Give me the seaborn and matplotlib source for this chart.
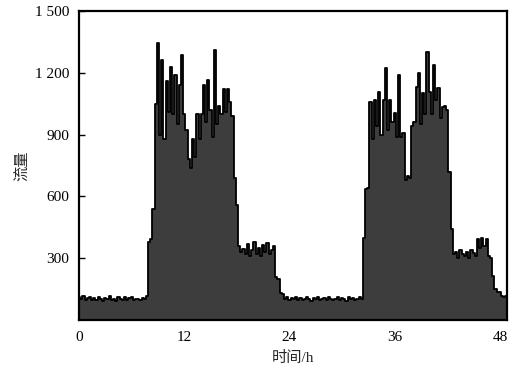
import numpy as np
import pandas as pd
import matplotlib
matplotlib.use("Agg")
import matplotlib.pyplot as plt
import seaborn as sns

# time step 0.25 h, values per hour (4 per row)
flow = [
    110, 100, 115, 95,      # 0
    105, 112, 98, 108,      # 1
    95, 110, 102, 90,       # 2
    108, 100, 115, 96,      # 3
    104, 92, 110, 100,      # 4
    98, 112, 95, 105,       # 5
    110, 96, 104, 100,      # 6
    95, 108, 100, 115,      # 7
    380, 395, 540, 1050,    # 8
    1345, 900, 1260, 880,   # 9
    1160, 1010, 1230, 1000, # 10
    1190, 950, 1140, 1287,  # 11
    1000, 920, 780, 740,    # 12
    880, 790, 1000, 880,    # 13
    1000, 1140, 960, 1165,  # 14
    1020, 890, 1310, 950,   # 15
    1040, 1000, 1120, 1010, # 16
    1120, 1060, 990, 690,   # 17
    560, 360, 330, 345,     # 18
    320, 370, 310, 340,     # 19
    380, 320, 350, 310,     # 20
    365, 330, 375, 320,     # 21
    340, 360, 210, 200,     # 22
    130, 125, 100, 110,     # 23
    95, 105, 100, 112,      # 24
    98, 108, 95, 104,       # 25
    110, 100, 92, 106,      # 26
    100, 112, 97, 103,      # 27
    108, 95, 110, 100,      # 28
    96, 104, 112, 98,       # 29
    105, 100, 94, 110,      # 30
    100, 108, 97, 104,      # 31
    112, 100, 400, 634,     # 32
    640, 1060, 880, 1070,   # 33
    940, 1108, 900, 1070,   # 34
    1225, 920, 1070, 960,   # 35
    1006, 890, 1190, 890,   # 36
    910, 680, 700, 690,     # 37
    940, 960, 1133, 1200,   # 38
    950, 1100, 1000, 1300,  # 39
    1108, 1000, 1240, 1070, # 40
    1127, 980, 1035, 1040,  # 41
    1020, 716, 440, 320,    # 42
    330, 300, 340, 320,     # 43
    310, 330, 300, 340,     # 44
    325, 310, 392, 350,     # 45
    400, 360, 395, 310,     # 46
    300, 213, 150, 135,     # 47
    135, 116, 110, 116,     # 48
]
step_h = 0.25
hours = [i * step_h for i in range(len(flow))]

x_ticks = [0, 12, 24, 36, 48]
y_ticks = [300, 600, 900, 1200, 1500]
y_tick_labels = ["300", "600", "900", "1 200", "1 500"]

df = pd.DataFrame({"time": hours, "flow": flow})

sns.set_style("ticks")
plt.rcParams["font.family"] = ["Liberation Serif", "Noto Sans CJK SC"]
plt.rcParams["xtick.direction"] = "in"
plt.rcParams["ytick.direction"] = "in"

fig = plt.figure(figsize=(5.10, 3.69), dpi=100)
ax = fig.add_axes([0.155, 0.133, 0.839, 0.837])

ax.fill_between(df["time"], df["flow"], 0, color="#3d3d3d", linewidth=0, step="mid")
sns.lineplot(data=df, x="time", y="flow", ax=ax, color="black", linewidth=1.3,
             drawstyle="steps-mid")

ax.set_xlim(0, 48.8)
ax.set_ylim(0, 1500)
ax.set_xticks(x_ticks)
ax.set_xticklabels([str(t) for t in x_ticks], fontsize=11)
ax.set_yticks(y_ticks)
ax.set_yticklabels(y_tick_labels, fontsize=11)
ax.tick_params(axis="both", length=4, width=1, colors="black")
ax.tick_params(axis="x", pad=8)
ax.tick_params(axis="y", pad=7)

for sp in ax.spines.values():
    sp.set_linewidth(1.6)
    sp.set_color("black")

ax.set_xlabel("时间/h", fontsize=11, labelpad=5)
ax.set_ylabel("流量", fontsize=11, labelpad=4)

fig.savefig("out.png", dpi=100)
